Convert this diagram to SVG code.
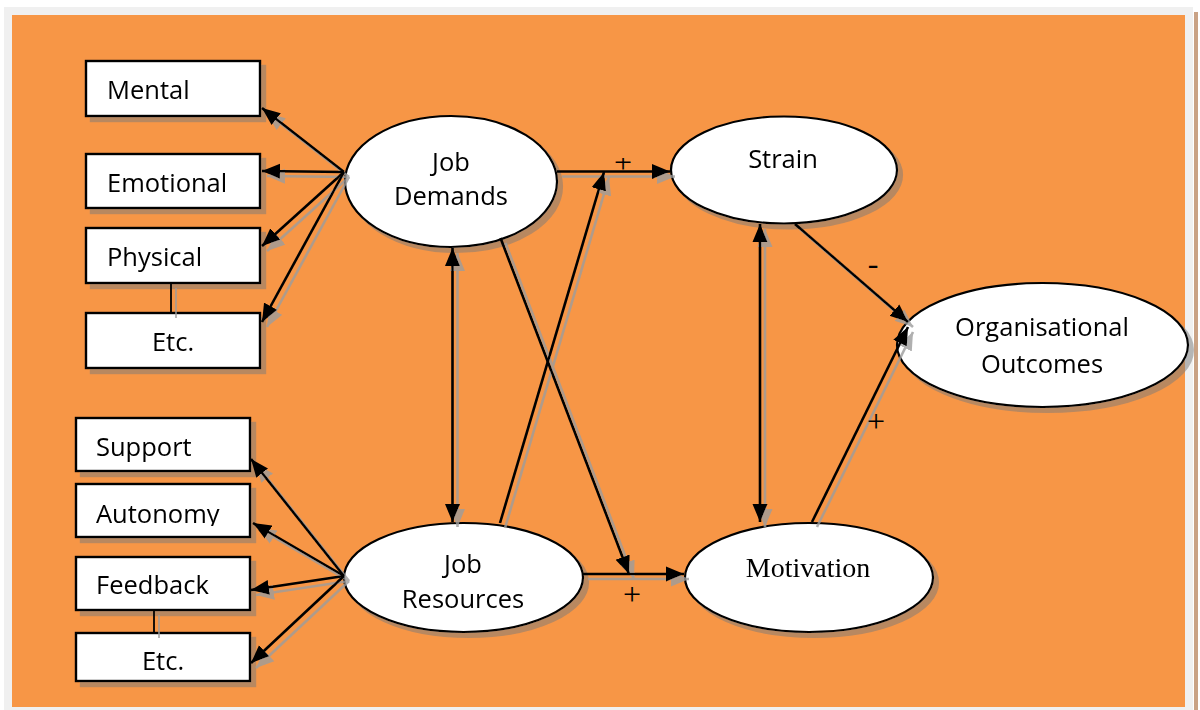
<svg xmlns="http://www.w3.org/2000/svg" width="1200" height="710" viewBox="0 0 1200 710">
<defs>
<style>
.box{fill:#fff;stroke:#000;stroke-width:2.4}
.ell{fill:#fff;stroke:#000;stroke-width:2.2}
.t{font-family:"Open Sans","Liberation Sans",sans-serif;font-size:25.5px;fill:#000}
.m{text-anchor:middle}
.c{stroke:#000;stroke-width:2.6;fill:none}
.thin{stroke:#000;stroke-width:1.8;fill:none}
.a{marker-end:url(#ah)}
.d{marker-start:url(#ah);marker-end:url(#ah)}
.sign{font-family:"Liberation Serif",serif;font-size:32px;text-anchor:middle;fill:#000}
</style>
<marker id="ah" markerUnits="userSpaceOnUse" viewBox="0 0 19 16" markerWidth="19" markerHeight="16" refX="18" refY="8" orient="auto-start-reverse"><path d="M0,0.5 L18,8 L0,15.5 Z" fill="#000"/></marker>
<filter id="sh" x="-10%" y="-10%" width="130%" height="130%"><feOffset in="SourceAlpha" dx="5" dy="5" result="o"/><feFlood flood-color="#7a7a7a" flood-opacity="0.5"/><feComposite in2="o" operator="in" result="s"/><feMerge><feMergeNode in="s"/><feMergeNode in="SourceGraphic"/></feMerge></filter>
<filter id="lsh" x="-5%" y="-5%" width="110%" height="110%"><feOffset in="SourceAlpha" dx="5" dy="5" result="o"/><feFlood flood-color="#9c9c9c" flood-opacity="0.8"/><feComposite in2="o" operator="in" result="s"/><feMerge><feMergeNode in="s"/><feMergeNode in="SourceGraphic"/></feMerge></filter>
<clipPath id="clipAut"><rect x="76" y="484" width="174" height="42"/></clipPath>
<clipPath id="clipPlus"><rect x="600" y="158" width="50" height="30"/></clipPath>
</defs>
<rect x="0" y="0" width="1200" height="710" fill="#fff"/>
<rect x="4" y="7" width="1189" height="703" fill="#f0f0f0"/>
<rect x="1194" y="12" width="4" height="698" fill="#c9a285"/>
<rect x="12" y="15" width="1173" height="692" fill="#f79646"/>

<g id="mental" filter="url(#sh)"><rect class="box" x="86" y="61" width="174" height="55"/><text class="t" x="107" y="99">Mental</text></g>
<g id="emotional" filter="url(#sh)"><rect class="box" x="86" y="154" width="174" height="54"/><text class="t" x="107" y="192">Emotional</text></g>
<g id="physical" filter="url(#sh)"><rect class="box" x="86" y="228" width="174" height="55"/><text class="t" x="107" y="266">Physical</text></g>
<g id="etc-demands" filter="url(#sh)"><rect class="box" x="86" y="313" width="174" height="55"/><text class="t m" x="173" y="351">Etc.</text></g>
<g id="support" filter="url(#sh)"><rect class="box" x="76" y="418" width="174" height="53"/><text class="t" x="96" y="456">Support</text></g>
<g id="autonomy" filter="url(#sh)"><rect class="box" x="76" y="484" width="174" height="53"/><text class="t" x="96" y="523" clip-path="url(#clipAut)">Autonomy</text></g>
<g id="feedback" filter="url(#sh)"><rect class="box" x="76" y="557" width="174" height="53"/><text class="t" x="96" y="594">Feedback</text></g>
<g id="etc-resources" filter="url(#sh)"><rect class="box" x="76" y="633" width="174" height="48"/><text class="t m" x="163" y="670">Etc.</text></g>

<g id="job-demands" filter="url(#sh)"><ellipse class="ell" cx="451" cy="181.5" rx="106" ry="65.5"/><text class="t m" x="451" y="171">Job</text><text class="t m" x="451" y="205">Demands</text></g>
<g id="strain" filter="url(#sh)"><ellipse class="ell" cx="784" cy="170" rx="113" ry="53.5"/><text class="t m" x="783" y="168">Strain</text></g>
<g id="outcomes" filter="url(#sh)"><ellipse class="ell" cx="1042.5" cy="345" rx="145.5" ry="62"/><text class="t m" x="1042" y="336">Organisational</text><text class="t m" x="1042" y="373">Outcomes</text></g>
<g id="job-resources" filter="url(#sh)"><ellipse class="ell" cx="463.5" cy="577.5" rx="119.5" ry="54.5"/><text class="t m" x="463" y="573">Job</text><text class="t m" x="463" y="608">Resources</text></g>
<g id="motivation" filter="url(#sh)"><ellipse class="ell" cx="809" cy="577.5" rx="124" ry="54.5"/><text x="808" y="577" text-anchor="middle" font-family="'Liberation Serif',serif" font-size="28">Motivation</text></g>

<g id="connectors" filter="url(#lsh)">
<line class="c a" x1="344" y1="172" x2="262" y2="108"/>
<line class="c a" x1="344" y1="172" x2="262" y2="171"/>
<line class="c a" x1="344" y1="172" x2="262" y2="246"/>
<line class="c a" x1="344" y1="172" x2="262" y2="322"/>
<line class="thin" x1="171" y1="283" x2="171" y2="313"/>
<line class="c a" x1="344" y1="576" x2="251" y2="459"/>
<line class="c a" x1="344" y1="576" x2="253" y2="523"/>
<line class="c a" x1="344" y1="576" x2="251" y2="590"/>
<line class="c a" x1="344" y1="576" x2="251" y2="663"/>
<line class="thin" x1="154" y1="610" x2="154" y2="633"/>
<line class="c a" x1="557" y1="171.5" x2="670" y2="171.5"/>
<line class="c a" x1="500" y1="523" x2="604" y2="172"/>
<line class="c a" x1="500.5" y1="238" x2="629" y2="574"/>
<line class="c a" x1="583" y1="574" x2="684" y2="574"/>
<line class="c d" x1="452.5" y1="248" x2="452.5" y2="522"/>
<line class="c d" x1="760" y1="224" x2="760" y2="522"/>
<line class="c a" x1="795" y1="224" x2="908" y2="322"/>
<line class="c a" x1="812" y1="522" x2="908" y2="327"/>
</g>
<g id="labels">
<text class="sign" x="623" y="173" clip-path="url(#clipPlus)">+</text>
<text class="sign" x="632" y="605">+</text>
<text class="sign" x="876" y="432">+</text>
<text class="sign" x="873" y="274" font-size="20">-</text>
</g>
</svg>
